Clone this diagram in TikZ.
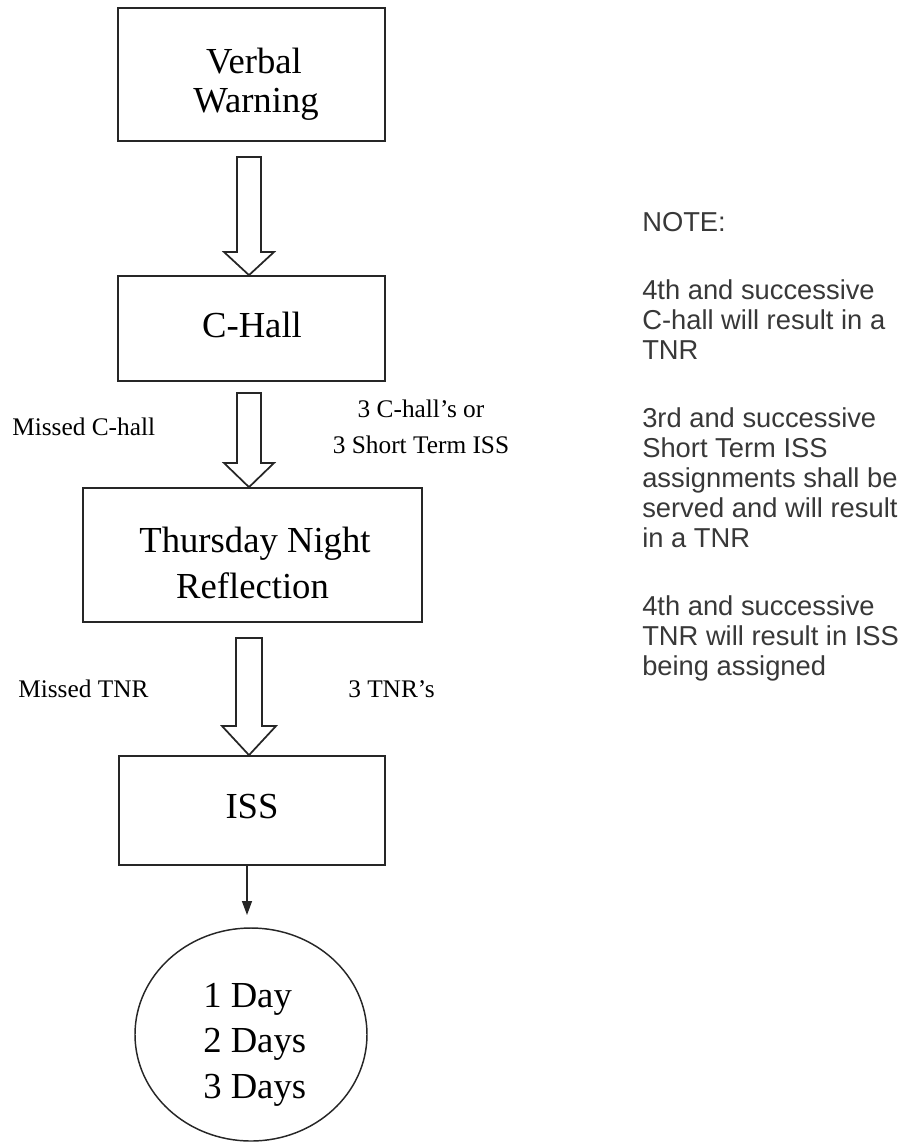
\documentclass[tikz,border=0pt]{standalone}
\usepackage{fontspec}
\setmainfont{Liberation Serif}
\newfontfamily\notefont{Liberation Sans}
\usetikzlibrary{arrows.meta,shapes.geometric}
\begin{document}
\begin{tikzpicture}[x=0.75pt,y=-0.75pt,
  box/.style={draw=black!85, line width=1.3pt, inner sep=0pt},
  boxtext/.style={inner sep=0pt, anchor=base, font=\fontsize{27.5pt}{33pt}\selectfont},
  elabel/.style={inner sep=0pt, font=\fontsize{19pt}{23pt}\selectfont},
  note/.style={inner sep=0pt, anchor=base west, text=black!78, font=\notefont\fontsize{20.5pt}{22.5pt}\selectfont},
  blockarrow/.style={draw=black!85, line width=1.3pt, fill=white, line join=miter},
  thin arrow/.style={draw=black!85, line width=1.1pt, -{Triangle[length=10.5pt,width=7.5pt]}}
]
\useasboundingbox (0,0) rectangle (910,1143);

% boxes
\node[box, minimum width=200.25pt, minimum height=99.75pt] (vw) at (251.5,74.5) {};
\node[box, minimum width=200.25pt, minimum height=78.75pt] (ch) at (251.5,328.5) {};
\node[box, minimum width=254.25pt, minimum height=100.5pt] (tnr) at (252.5,555) {};
\node[box, minimum width=199.5pt, minimum height=81.75pt] (iss) at (252,810.5) {};
\node[ellipse, draw=black!85, line width=1.1pt, inner sep=0pt, minimum width=174pt, minimum height=159.75pt] (days) at (251,1034.5) {};

% box texts
\node[boxtext] (vw1) at (254,73) {Verbal};
\node[boxtext] (vw2) at (256,112) {Warning};
\node[boxtext] (ch1) at (252,337) {C-Hall};
\node[boxtext] (tnr1) at (255,552) {Thursday Night};
\node[boxtext] (tnr2) at (252.5,598) {Reflection};
\node[boxtext] (iss1) at (252,818) {ISS};
\node[boxtext, anchor=base west] (d1) at (203,1007) {1 Day};
\node[boxtext, anchor=base west] (d2) at (203,1052) {2 Days};
\node[boxtext, anchor=base west] (d3) at (203,1098) {3 Days};

% block arrows
\coordinate (ax) at (249,0);
\draw[blockarrow] (237,157) -- (261,157) -- (261,252) -- (274,252) -- (ax |- ch.north) -- (224,252) -- (237,252) -- cycle;
\draw[blockarrow] (237,393) -- (261,393) -- (261,463) -- (274,463) -- (ax |- tnr.north) -- (224,463) -- (237,463) -- cycle;
\draw[blockarrow] (236,638) -- (262,638) -- (262,726) -- (276,726) -- (ax |- iss.north) -- (222,726) -- (236,726) -- cycle;

% thin arrow
\coordinate (ax2) at (247,0);
\coordinate (tip) at (247,915);
\draw[thin arrow] (ax2 |- iss.south) -- (tip);

% edge labels
\node[elabel, anchor=base west] (l1) at (12,435) {Missed C-hall};
\node[elabel, anchor=base] (l2) at (421,417) {3 C-hall’s or};
\node[elabel, anchor=base] (l3) at (421,453) {3 Short Term ISS};
\node[elabel, anchor=base west] (l4) at (18,697) {Missed TNR};
\node[elabel, anchor=base west] (l5) at (348,697) {3 TNR’s};

% notes
\node[note] (n0) at (642,231) {NOTE:};
\node[note] (n1) at (642,299) {4th and successive};
\node[note] (n2) at (642,329) {C-hall will result in a};
\node[note] (n3) at (642,359) {TNR};
\node[note] (n4) at (642,427) {3rd and successive};
\node[note] (n5) at (642,457) {Short Term ISS};
\node[note] (n6) at (642,487) {assignments shall be};
\node[note] (n7) at (642,517) {served and will result};
\node[note] (n8) at (642,547) {in a TNR};
\node[note] (n9) at (642,615) {4th and successive};
\node[note] (n10) at (642,645) {TNR will result in ISS};
\node[note] (n11) at (642,675) {being assigned};
\end{tikzpicture}
\end{document}
